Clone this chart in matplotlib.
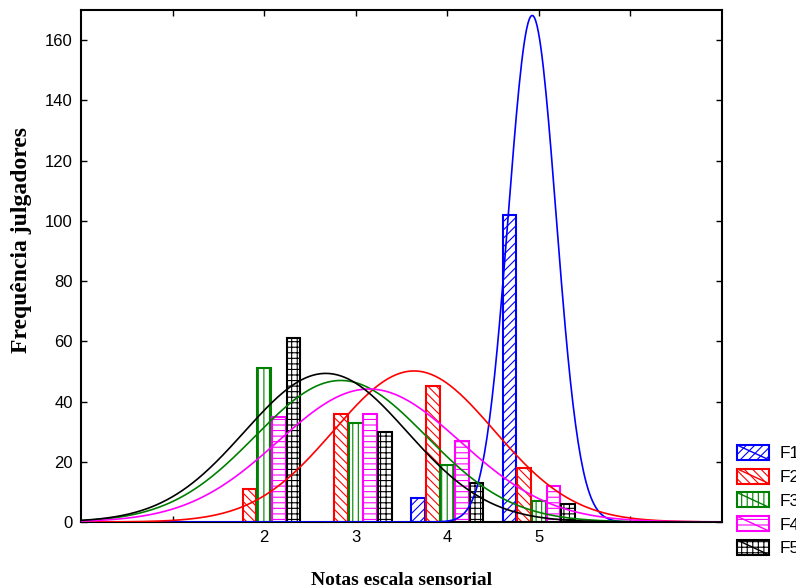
import numpy as np
import matplotlib
matplotlib.use("Agg")
import matplotlib.pyplot as plt
from matplotlib.legend_handler import HandlerBase
from matplotlib.lines import Line2D
from matplotlib.patches import Patch, Rectangle

# counts of judges per sensory score, one list per formulation
scores = [2, 3, 4, 5]
f1 = [0, 0, 8, 102]
f2 = [11, 36, 45, 18]
f3 = [51, 33, 19, 7]
f4 = [35, 36, 27, 12]
f5 = [61, 30, 13, 6]

labels = ["F1", "F2", "F3", "F4", "F5"]
series = [f1, f2, f3, f4, f5]
colors = ["#0000ff", "#ff0000", "#008000", "#ff00ff", "#000000"]
hatches = ["////", "\\\\\\\\", "|||", "---", "+++"]

plt.rcParams["hatch.linewidth"] = 0.8
plt.rcParams["font.family"] = ["Liberation Sans", "DejaVu Sans"]


class DiagonalBoxHandler(HandlerBase):
    """Legend key: hatched box crossed by a diagonal line."""

    def create_artists(self, legend, orig_handle, xdescent, ydescent,
                       width, height, fontsize, trans):
        col = orig_handle.get_edgecolor()
        box = Rectangle((-xdescent, -ydescent), width, height,
                        facecolor="white", edgecolor=col,
                        hatch=orig_handle.get_hatch(), linewidth=1.5,
                        transform=trans)
        diag = Line2D([-xdescent, -xdescent + width],
                      [-ydescent + height, -ydescent],
                      color=col, linewidth=1.0, transform=trans)
        return [box, diag]


def normal_fit(counts, xs):
    s = np.array(scores, dtype=float)
    c = np.array(counts, dtype=float)
    n = c.sum()
    mean = (s * c).sum() / n
    sd = np.sqrt((c * (s - mean) ** 2).sum() / (n - 1))
    return n / (sd * np.sqrt(2 * np.pi)) * np.exp(-0.5 * ((xs - mean) / sd) ** 2)


fig = plt.figure(figsize=(7.96, 5.88), dpi=100)
ax = fig.add_axes([81 / 796, 1 - 522 / 588, (722 - 81) / 796, (522 - 10) / 588])

offsets = [-0.32, -0.16, 0.0, 0.16, 0.32]
xs = np.linspace(0, 7, 500)
handles = []
for vals, col, hat, off, lab in zip(series, colors, hatches, offsets, labels):
    pos = np.array(scores, dtype=float) + off
    v = np.array(vals)
    keep = v > 0
    ax.bar(pos[keep], v[keep], width=0.15, facecolor="white", edgecolor=col,
           hatch=hat, linewidth=1.5, zorder=2)
    ax.plot(xs, normal_fit(vals, xs), color=col, linewidth=1.2, zorder=3)
    handles.append(Patch(facecolor="white", edgecolor=col, hatch=hat, label=lab))

ax.set_xlim(0, 7)
ax.set_ylim(0, 170)
ax.set_xticks([1, 2, 3, 4, 5, 6], labels=["", "2", "3", "4", "5", ""])
ax.set_yticks(np.arange(0, 161, 20))
ax.tick_params(direction="in", top=True, right=True, length=4, width=1,
               labelsize=12, pad=6)
for sp in ax.spines.values():
    sp.set_linewidth(1.5)

ax.set_xlabel("Notas escala sensorial", family="Liberation Serif",
              fontweight="bold", fontsize=14)
ax.xaxis.set_label_coords(0.5, -0.098)
ax.set_ylabel("Frequência julgadores", family="Liberation Serif",
              fontweight="bold", fontsize=17)
ax.yaxis.set_label_coords(-0.077, 0.55)

fig.legend(handles=handles, labels=labels, loc="upper left",
           bbox_to_anchor=(737 / 796, 1 - 445 / 588), frameon=False,
           borderpad=0, borderaxespad=0, handlelength=1.86, handleheight=0.95,
           handletextpad=0.6, labelspacing=0.42, fontsize=12.5,
           handler_map={Patch: DiagonalBoxHandler()})

fig.savefig("out.png", dpi=100)
